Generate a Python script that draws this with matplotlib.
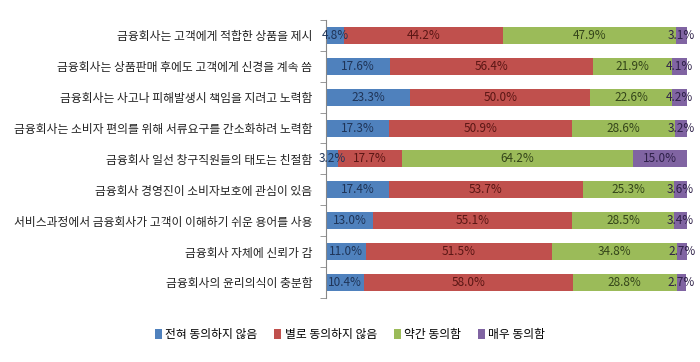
import matplotlib
matplotlib.use('Agg')
import matplotlib.pyplot as plt
import numpy as np

plt.rcParams['font.family'] = ['Noto Sans CJK KR', 'DejaVu Sans']

# survey items, top to bottom
items = [
    '금융회사는 고객에게 적합한 상품을 제시',
    '금융회사는 상품판매 후에도 고객에게 신경을 계속 씀',
    '금융회사는 사고나 피해발생시 책임을 지려고 노력함',
    '금융회사는 소비자 편의를 위해 서류요구를 간소화하려 노력함',
    '금융회사 일선 창구직원들의 태도는 친절함',
    '금융회사 경영진이 소비자보호에 관심이 있음',
    '서비스과정에서 금융회사가 고객이 이해하기 쉬운 용어를 사용',
    '금융회사 자체에 신뢰가 감',
    '금융회사의 윤리의식이 충분함',
]

series_names = ['전혀 동의하지 않음', '별로 동의하지 않음', '약간 동의함', '매우 동의함']

strongly_disagree = [4.8, 17.6, 23.3, 17.3, 3.2, 17.4, 13.0, 11.0, 10.4]
disagree = [44.2, 56.4, 50.0, 50.9, 17.7, 53.7, 55.1, 51.5, 58.0]
agree = [47.9, 21.9, 22.6, 28.6, 64.2, 25.3, 28.5, 34.8, 28.8]
strongly_agree = [3.1, 4.1, 4.2, 3.2, 15.0, 3.6, 3.4, 2.7, 2.7]

colors = ['#4F81BD', '#C0504D', '#9BBB59', '#8064A2']
text_colors = ['#1F3457', '#5A1614', '#34451A', '#2E2048']

fig = plt.figure(figsize=(7.0, 3.62), dpi=100)
ax = fig.add_axes([0.466, 0.177, 0.515, 0.768])

y = np.arange(len(items))
left = np.zeros(len(items))

for vals, name, c, tc in zip([strongly_disagree, disagree, agree, strongly_agree],
                             series_names, colors, text_colors):
    vals = np.array(vals)
    ax.barh(y, vals, left=left, height=0.55, color=c, label=name)
    # value labels centred in each segment
    for yi, (l, v) in enumerate(zip(left, vals)):
        ax.text(l + v / 2, yi, '{:.1f}%'.format(v), ha='center', va='center',
                fontsize=8.5, color=tc)
    left += vals

ax.set_xlim(0, 100)
ax.set_ylim(len(items) - 0.5, -0.5)
ax.set_yticks(y)
ax.set_yticklabels(items, fontsize=8.5, color='#222222')
ax.set_yticks(np.arange(len(items) + 1) - 0.5, minor=True)
ax.tick_params(axis='y', which='major', length=0, pad=10)
ax.tick_params(axis='y', which='minor', length=4, color='#888888')
ax.set_xticks([])
for s in ['top', 'right', 'bottom']:
    ax.spines[s].set_visible(False)
ax.spines['left'].set_color('#888888')

fig.legend(loc='center', bbox_to_anchor=(0.5, 0.075), ncol=4, frameon=False,
           fontsize=8.5, handlelength=0.6, handleheight=0.9, handletextpad=0.3,
           columnspacing=1.4)

fig.savefig('out.png', dpi=100)
